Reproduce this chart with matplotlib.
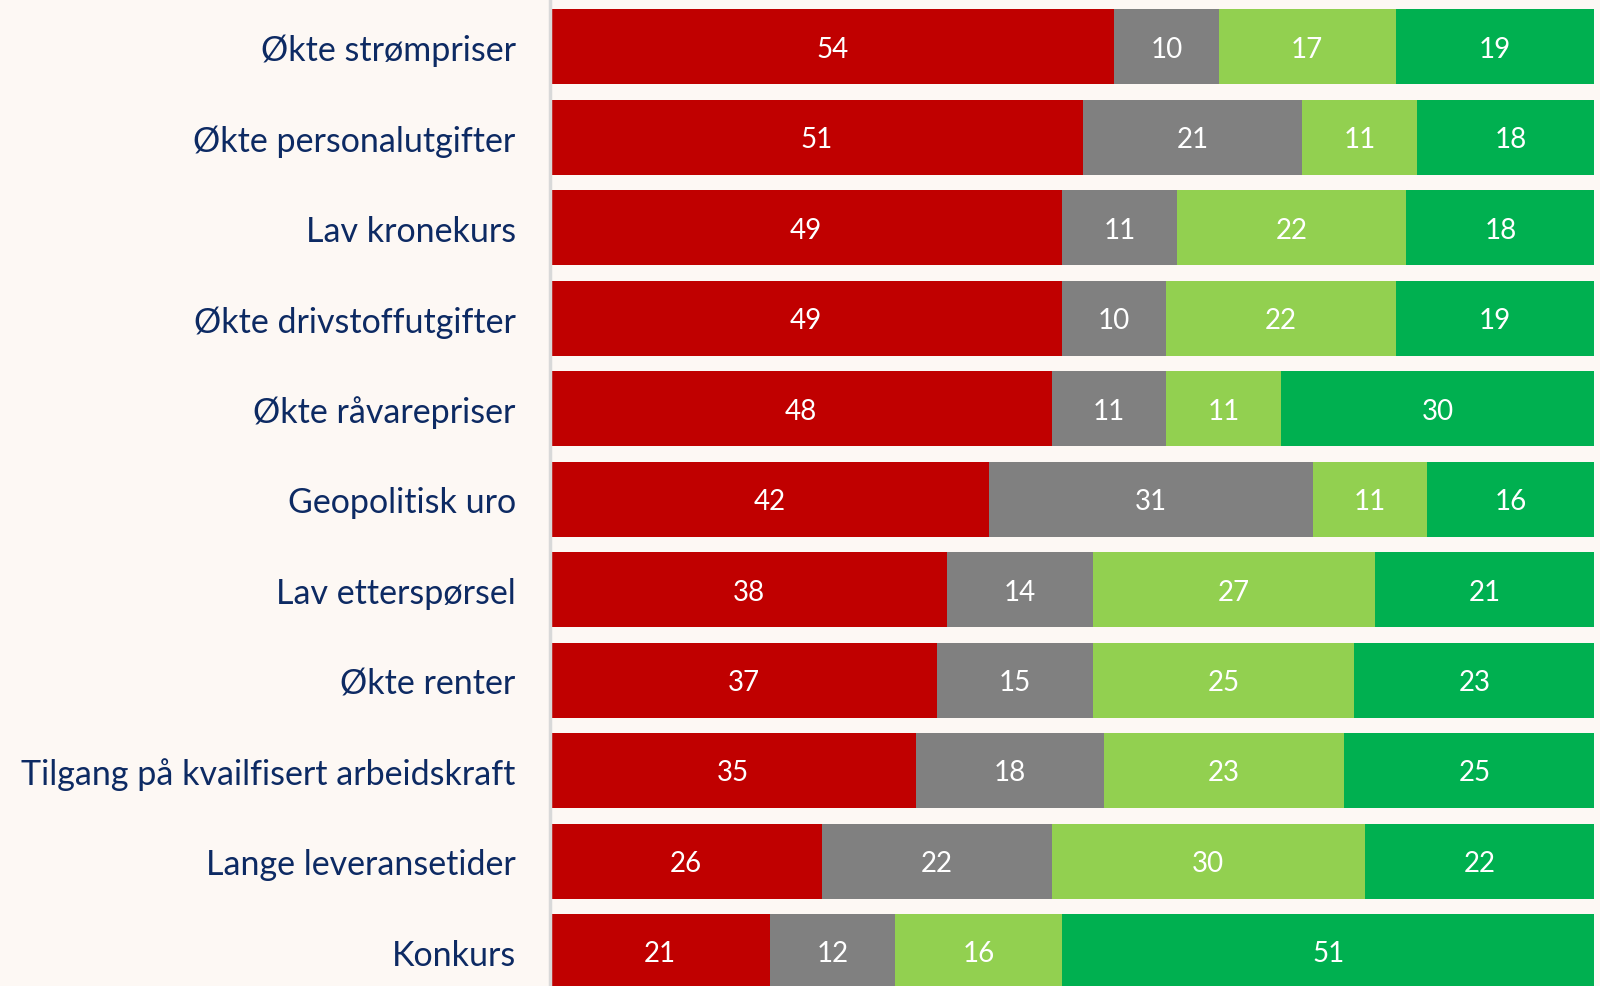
import numpy as np
import matplotlib
matplotlib.use("Agg")
import matplotlib.pyplot as plt

categories = ["Økte strømpriser", "Økte personalutgifter", "Lav kronekurs",
              "Økte drivstoffutgifter", "Økte råvarepriser", "Geopolitisk uro",
              "Lav etterspørsel", "Økte renter", "Tilgang på kvailfisert arbeidskraft",
              "Lange leveransetider", "Konkurs"]
red = [54, 51, 49, 49, 48, 42, 38, 37, 35, 26, 21]
grey = [10, 21, 11, 10, 11, 31, 14, 15, 18, 22, 12]
lightgreen = [17, 11, 22, 22, 11, 11, 27, 25, 23, 30, 16]
green = [19, 18, 18, 19, 30, 16, 21, 23, 25, 22, 51]

series = [red, grey, lightgreen, green]
colors = ["#C00000", "#808080", "#92D050", "#00B050"]

bg = "#FDF8F4"
plt.rcParams['font.family'] = ['Lato', 'DejaVu Sans']

fig = plt.figure(figsize=(16, 9.87), dpi=100, facecolor=bg)
ax = fig.add_axes([0.344, 0.0, 0.6525, 1.0])
ax.set_facecolor(bg)

y = np.arange(len(categories))
left = np.zeros(len(categories))
for vals, c in zip(series, colors):
    vals = np.array(vals, dtype=float)
    ax.barh(y, vals, left=left, height=0.83, color=c, edgecolor="none")
    for yi, l, v in zip(y, left, vals):
        ax.text(l + v / 2, yi + 0.02, str(int(v)), ha="center", va="center",
                color="white", fontsize=20, clip_on=True)
    left += vals

ax.set_xlim(0, 100)
ax.set_ylim(10.38, -0.53)
ax.set_yticks(y)
ax.set_yticklabels(categories, fontsize=24.5, color="#0D2A63")
ax.tick_params(axis="y", length=0, pad=25)
ax.set_xticks([])
for s in ["top", "right", "bottom"]:
    ax.spines[s].set_visible(False)
ax.spines["left"].set_color("#D9D9D9")
ax.spines["left"].set_linewidth(2.5)

fig.savefig("out.png", dpi=100, facecolor=bg)
